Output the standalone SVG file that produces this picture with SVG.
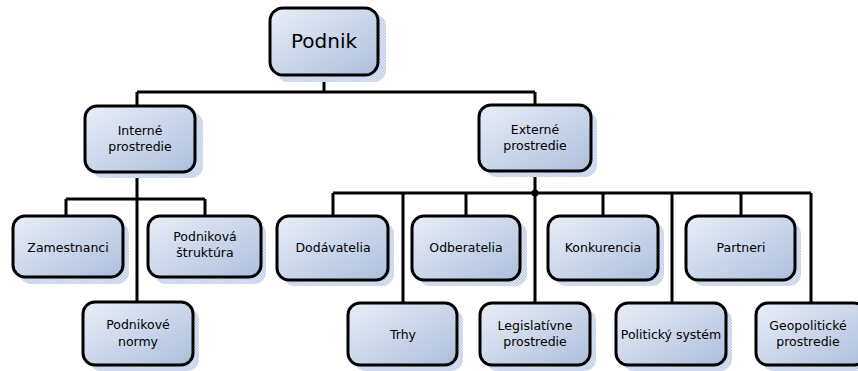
<svg xmlns="http://www.w3.org/2000/svg" width="858" height="371" viewBox="0 0 858 371">
  <defs>
    <linearGradient id="boxFill" x1="0" y1="0" x2="1" y2="1">
      <stop offset="0" stop-color="#e9eef8"/>
      <stop offset="1" stop-color="#adbfdc"/>
    </linearGradient>
    <pattern id="shadowDots" width="3" height="3" patternUnits="userSpaceOnUse">
      <rect width="3" height="3" fill="#e6ebf6"/>
      <rect width="1.5" height="1.5" fill="#b9c8e6"/>
      <rect x="1.5" y="1.5" width="1.5" height="1.5" fill="#b9c8e6"/>
    </pattern>
  </defs>
  <style>
    .box { fill: url(#boxFill); stroke: #000; stroke-width: 3; }
    .shadow { fill: url(#shadowDots); }
    .lbl { font-family: "DejaVu Sans", Verdana, sans-serif; font-size: 12.5px; fill: #000; text-anchor: middle; }
    .big { font-size: 20px; }
    .wire { fill: none; stroke: #000; stroke-width: 3; stroke-linejoin: miter; }
  </style>
  <rect width="858" height="371" fill="#fff"/>

  <g id="connectors">
    <path class="wire" d="M324 75 V92 M137 92 H535 M137 92 V106 M535 92 V106"/>
    <path class="wire" d="M137 172 V199 M66 199 H205 M66 199 V216 M205 199 V216 M137 199 V302"/>
    <path class="wire" d="M535 171 V193 M333 193 H811 M333 193 V216 M403 193 V303 M466 193 V216 M535 193 V303 M603 193 V216 M672 193 V303 M741 193 V216 M811 193 V303"/>
    <circle cx="535" cy="193" r="3.5" fill="#000"/>
  </g>

  <g id="podnik">
    <rect class="shadow" x="276" y="14" width="110" height="68" rx="12"/>
    <rect class="box" x="270" y="8" width="108" height="67" rx="13"/>
    <text class="lbl big" x="324" y="48">Podnik</text>
  </g>

  <g id="interne">
    <rect class="shadow" x="91" y="112" width="112" height="66" rx="12"/>
    <rect class="box" x="85" y="106" width="110" height="66" rx="12"/>
    <text class="lbl" x="140" y="135">Interné</text>
    <text class="lbl" x="140" y="151">prostredie</text>
  </g>

  <g id="externe">
    <rect class="shadow" x="485" y="111" width="112" height="66" rx="12"/>
    <rect class="box" x="479" y="105" width="112" height="66" rx="12"/>
    <text class="lbl" x="535" y="134">Externé</text>
    <text class="lbl" x="535" y="150">prostredie</text>
  </g>

  <g id="zamestnanci">
    <rect class="shadow" x="19" y="222" width="110" height="62" rx="12"/>
    <rect class="box" x="13" y="216" width="110" height="61" rx="12"/>
    <text class="lbl" x="68" y="252">Zamestnanci</text>
  </g>

  <g id="podnikova-struktura">
    <rect class="shadow" x="154" y="222" width="112" height="62" rx="12"/>
    <rect class="box" x="148" y="216" width="113" height="61" rx="12"/>
    <text class="lbl" x="205" y="241">Podniková</text>
    <text class="lbl" x="205" y="257">štruktúra</text>
  </g>

  <g id="podnikove-normy">
    <rect class="shadow" x="89" y="308" width="110" height="63" rx="12"/>
    <rect class="box" x="83" y="302" width="110" height="63" rx="12"/>
    <text class="lbl" x="138" y="329">Podnikové</text>
    <text class="lbl" x="138" y="346">normy</text>
  </g>

  <g id="dodavatelia">
    <rect class="shadow" x="283" y="222" width="111" height="64" rx="12"/>
    <rect class="box" x="277" y="216" width="111" height="64" rx="12"/>
    <text class="lbl" x="333" y="252">Dodávatelia</text>
  </g>

  <g id="odberatelia">
    <rect class="shadow" x="418" y="222" width="109" height="64" rx="12"/>
    <rect class="box" x="412" y="216" width="108" height="64" rx="12"/>
    <text class="lbl" x="466" y="252">Odberatelia</text>
  </g>

  <g id="konkurencia">
    <rect class="shadow" x="554" y="222" width="110" height="64" rx="12"/>
    <rect class="box" x="548" y="216" width="110" height="64" rx="12"/>
    <text class="lbl" x="603" y="252">Konkurencia</text>
  </g>

  <g id="partneri">
    <rect class="shadow" x="692" y="222" width="109" height="64" rx="12"/>
    <rect class="box" x="686" y="216" width="109" height="64" rx="12"/>
    <text class="lbl" x="741" y="252">Partneri</text>
  </g>

  <g id="trhy">
    <rect class="shadow" x="354" y="309" width="109" height="62" rx="12"/>
    <rect class="box" x="348" y="303" width="109" height="62" rx="12"/>
    <text class="lbl" x="403" y="339">Trhy</text>
  </g>

  <g id="legislativne">
    <rect class="shadow" x="486" y="309" width="110" height="62" rx="12"/>
    <rect class="box" x="480" y="303" width="110" height="62" rx="12"/>
    <text class="lbl" x="535" y="330">Legislatívne</text>
    <text class="lbl" x="535" y="346">prostredie</text>
  </g>

  <g id="politicky-system">
    <rect class="shadow" x="622" y="309" width="110" height="62" rx="12"/>
    <rect class="box" x="616" y="303" width="110" height="62" rx="12"/>
    <text class="lbl" x="671" y="339">Politický systém</text>
  </g>

  <g id="geopoliticke">
    <rect class="shadow" x="762" y="309" width="110" height="62" rx="12"/>
    <rect class="box" x="756" y="303" width="110" height="62" rx="12"/>
    <text class="lbl" x="808" y="330">Geopolitické</text>
    <text class="lbl" x="808" y="346">prostredie</text>
  </g>
</svg>
